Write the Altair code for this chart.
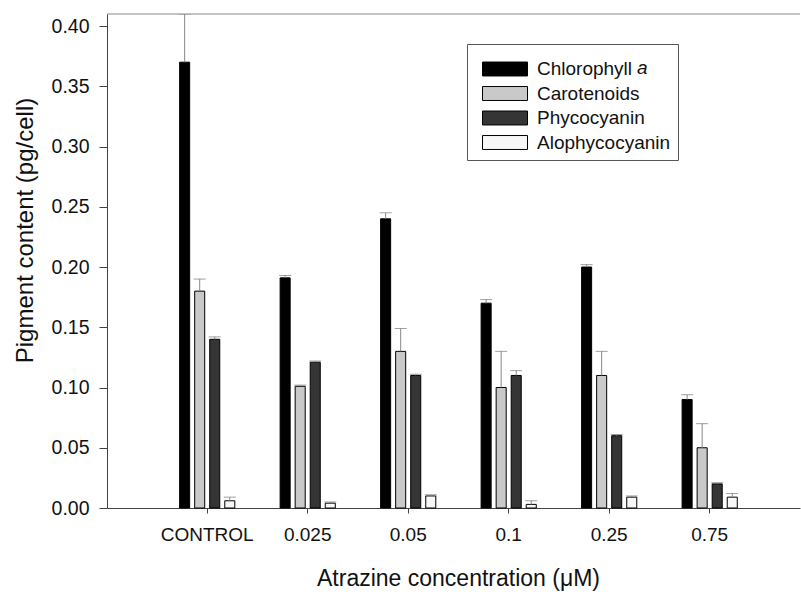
import altair as alt
import pandas as pd

categories = ["CONTROL", "0.025", "0.05", "0.1", "0.25", "0.75"]
series = ["Chlorophyll a", "Carotenoids", "Phycocyanin", "Alophycocyanin"]
colors = ["#000000", "#c9c9c9", "#353535", "#f7f7f7"]

chl = [0.370, 0.191, 0.240, 0.170, 0.200, 0.090]
chl_err = [0.040, 0.002, 0.005, 0.003, 0.002, 0.004]
car = [0.180, 0.101, 0.130, 0.100, 0.110, 0.050]
car_err = [0.010, 0.001, 0.019, 0.030, 0.020, 0.020]
phy = [0.140, 0.121, 0.110, 0.110, 0.060, 0.020]
phy_err = [0.002, 0.001, 0.001, 0.004, 0.001, 0.001]
alo = [0.006, 0.004, 0.010, 0.003, 0.009, 0.009]
alo_err = [0.003, 0.001, 0.001, 0.003, 0.001, 0.003]

vals = [chl, car, phy, alo]
errs = [chl_err, car_err, phy_err, alo_err]
rows = []
for s, v, e in zip(series, vals, errs):
    for c, vv, ee in zip(categories, v, e):
        rows.append({"conc": c, "series": s, "value": vv, "upper": vv + ee})
df = pd.DataFrame(rows)

FONT = "Liberation Sans"

x_enc = alt.X(
    "conc:N",
    sort=categories,
    scale=alt.Scale(paddingInner=0.4, paddingOuter=0.648, align=0.538),
    axis=alt.Axis(
        title="Atrazine concentration (\u03bcM)",
        labelAngle=0,
        labelFontSize=19,
        labelPadding=12,
        tickSize=5,
        titleFontSize=23,
        titleFontWeight="normal",
        titleY=70,
        titleBaseline="middle",
        titleX=351,
    ),
)
xo_enc = alt.XOffset(
    "series:N", sort=series, scale=alt.Scale(paddingInner=0.333, paddingOuter=0.17)
)
y_scale = alt.Scale(domain=[0, 0.41], nice=False)

base = alt.Chart(df)

bars = base.mark_bar(stroke="#000000", strokeWidth=1).encode(
    x=x_enc,
    xOffset=xo_enc,
    y=alt.Y(
        "value:Q",
        scale=y_scale,
        axis=alt.Axis(
            title="Pigment content (pg/cell)",
            values=[0, 0.05, 0.10, 0.15, 0.20, 0.25, 0.30, 0.35, 0.40],
            format=".2f",
            grid=False,
            labelFontSize=19.5,
            labelPadding=10,
            tickSize=8,
            titleFontSize=24,
            titleFontWeight="normal",
            titleX=-82,
            titleY=216,
            titleAlign="center",
            titleBaseline="middle",
        ),
    ),
    fill=alt.Fill(
        "series:N",
        sort=series,
        scale=alt.Scale(domain=series, range=colors),
        legend=alt.Legend(
            title=" ",
            titleFontSize=1,
            titlePadding=7,
            orient="none",
            legendX=360,
            legendY=30,
            symbolType="M-1,-0.31H1V0.31H-1Z",
            symbolSize=2025,
            symbolStrokeColor="#000000",
            symbolStrokeWidth=1,
            symbolOpacity=1,
            symbolOffset=8,
            clipHeight=20,
            labelFontSize=19,
            labelLimit=300,
            labelOffset=9,
            rowPadding=4.5,
            padding=7,
            strokeColor="#555555",
            labelExpr="replace(datum.label, ' a', '')",
        ),
    ),
)

err_rule = base.mark_rule(color="#888888", strokeWidth=1, clip=True).encode(
    x=alt.X("conc:N", sort=categories),
    xOffset=xo_enc,
    y=alt.Y("value:Q", scale=y_scale),
    y2="upper:Q",
)
err_cap = base.mark_tick(color="#777777", thickness=1, size=12, clip=True).encode(
    x=alt.X("conc:N", sort=categories),
    xOffset=xo_enc,
    y=alt.Y("upper:Q", scale=y_scale),
)

top_line = alt.Chart(pd.DataFrame({"top": [0.41]})).mark_rule(
    color="#888888", strokeWidth=1
).encode(y=alt.Y("top:Q", scale=y_scale))

ital = alt.Chart(pd.DataFrame({"t": ["a"]})).mark_text(
    font=FONT, fontSize=19, fontStyle="italic", align="left", baseline="middle",
    color="#111111",
).encode(text="t:N", x=alt.value(530), y=alt.value(54))

chart = (
    alt.layer(bars, err_rule, err_cap, top_line, ital)
    .properties(
        width=693,
        height=494,
        autosize=alt.AutoSizeParams(type="none"),
        padding={"left": 107, "top": 14, "right": 1, "bottom": 84},
    )
    .configure_view(stroke=None)
    .configure_axis(
        labelFont=FONT,
        titleFont=FONT,
        labelColor="#111111",
        titleColor="#111111",
        domainColor="#444444",
        tickColor="#444444",
    )
    .configure_legend(labelFont=FONT, labelColor="#111111", titleFont=FONT)
    .configure_text(font=FONT)
)

chart.save("out.html", embed_options={"renderer": "svg", "actions": False})
